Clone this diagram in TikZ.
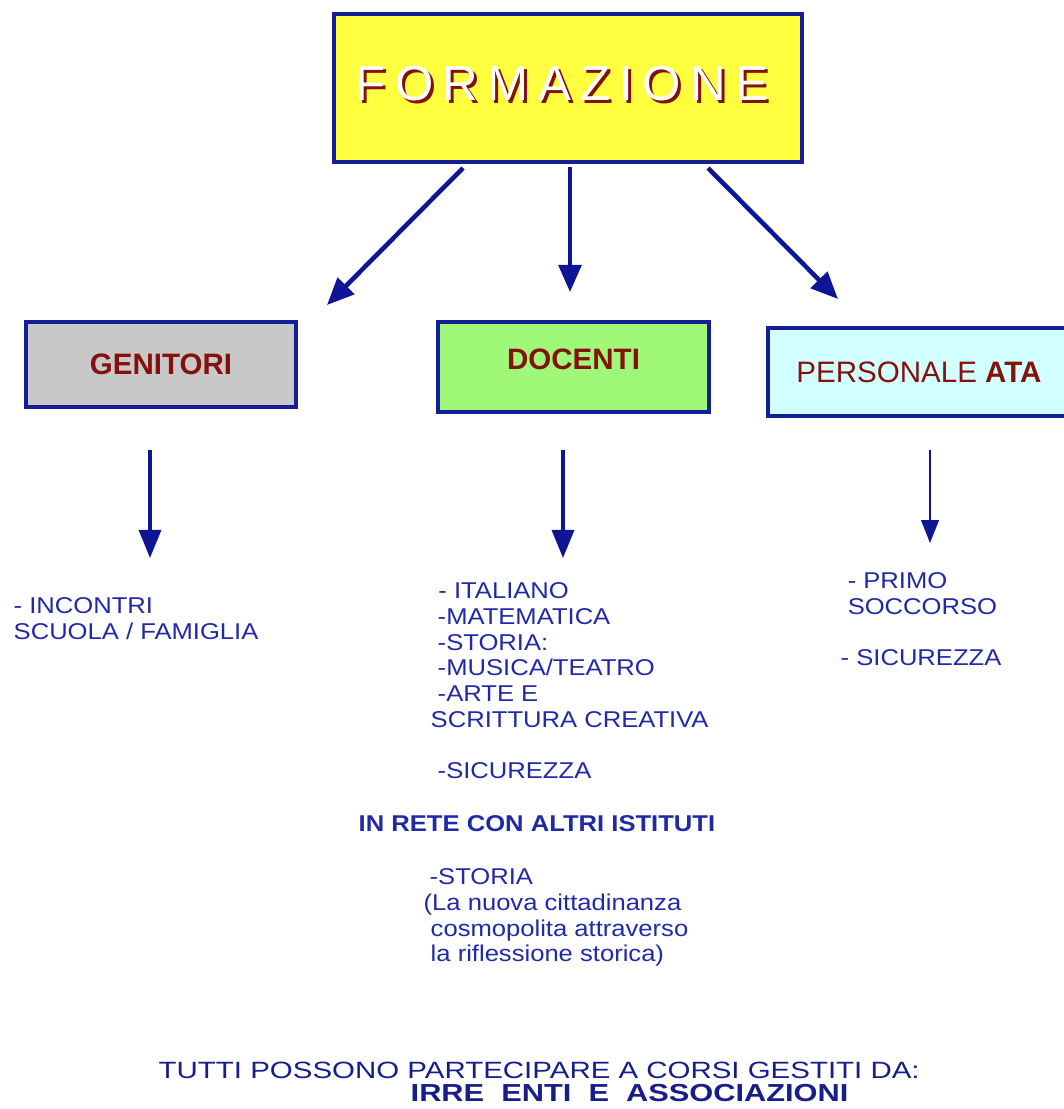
\documentclass[tikz,border=0pt]{standalone}
\usepackage{fontspec}
\setmainfont{Liberation Sans}
\newfontfamily\titlefont[LetterSpace=19]{Liberation Sans}
\newfontfamily\listfont[FakeStretch=1.12]{Liberation Sans}
\newfontfamily\footfont[FakeStretch=1.25]{Liberation Sans}
\usetikzlibrary{arrows.meta}
\pgfdeclarelayer{edgelayer}
\pgfdeclarelayer{nodelayer}
\pgfsetlayers{edgelayer,nodelayer,main}
\definecolor{boxblue}{RGB}{20,30,150}
\definecolor{arrowblue}{RGB}{14,22,150}
\definecolor{textblue}{RGB}{32,42,168}
\definecolor{navy}{RGB}{22,30,140}
\definecolor{darkbrown}{RGB}{132,18,12}
\definecolor{titleyellow}{RGB}{255,255,64}
\definecolor{boxgray}{RGB}{200,200,200}
\definecolor{boxgreen}{RGB}{160,248,120}
\definecolor{boxcyan}{RGB}{210,255,255}
\tikzstyle{group}=[rectangle,draw=boxblue,line width=1pt,text=darkbrown,font=\fontsize{8.4}{10}\selectfont,inner sep=0pt]
\tikzstyle{topic}=[align=left,inner sep=0pt,anchor=north west,text=textblue,font=\listfont\fontsize{6.5}{7.3}\selectfont]
\tikzstyle{footer}=[inner sep=0pt,anchor=base west,text=navy,font=\footfont\fontsize{6.7}{8}\selectfont]
\tikzstyle{branch}=[-{Triangle[length=7.7pt,width=6.5pt]},draw=arrowblue,line width=1.3pt]
\tikzstyle{subbranch}=[-{Triangle[length=8pt,width=6.3pt]},draw=arrowblue,line width=0.9pt]

\begin{document}
\begin{tikzpicture}[x=0.01cm,y=-0.01cm]
	\useasboundingbox (0,0) rectangle (1064,1109);
	\begin{pgfonlayer}{nodelayer}
		\node [style=group, fill=titleyellow, minimum width=4.68cm, minimum height=1.48cm] (0) at (568, 88) {};
		\node [text=darkbrown, inner sep=0pt, font=\titlefont\fontsize{14}{14}\selectfont] (0s) at (565, 87) {FORMAZIONE};
		\node [text=white, inner sep=0pt, font=\titlefont\fontsize{14}{14}\selectfont] (0t) at (562, 84) {FORMAZIONE};
		\node [style=group, fill=boxgray, minimum width=2.70cm, minimum height=0.85cm] (1) at (161, 364.5) {\bfseries GENITORI};
		\node [style=group, fill=boxgreen, minimum width=2.71cm, minimum height=0.90cm, text depth=4.2pt] (2) at (573.5, 367) {\bfseries DOCENTI};
		\node [style=group, fill=boxcyan, minimum width=3.02cm, minimum height=0.88cm] (3) at (919, 372) {PERSONALE \textbf{ATA}};
		\node [style=topic] (4) at (13, 597) {- INCONTRI\\SCUOLA / FAMIGLIA};
		\node [style=topic] (5) at (430, 582) {\hspace*{2.2pt}- ITALIANO\\\hspace*{2pt}-MATEMATICA\\\hspace*{2pt}-STORIA:\\\hspace*{2pt}-MUSICA/TEATRO\\\hspace*{2pt}-ARTE E\\SCRITTURA CREATIVA\\[7.3pt]\hspace*{2pt}-SICUREZZA};
		\node [style=topic, anchor=base west, font=\listfont\fontsize{6.5}{7.3}\selectfont\bfseries] (6) at (358, 831) {IN RETE CON ALTRI ISTITUTI};
		\node [style=topic] (7) at (423, 868) {\hspace*{1.7pt}-STORIA\\(La nuova cittadinanza\\\hspace*{2pt}cosmopolita attraverso\\\hspace*{2pt}la riflessione storica)};
		\node [style=topic] (8) at (840, 572) {\hspace*{2pt}- PRIMO\\\hspace*{2pt}SOCCORSO\\[7.3pt]- SICUREZZA};
		\node [style=footer] (9) at (158, 1078) {TUTTI POSSONO PARTECIPARE A CORSI GESTITI DA:};
		\node [style=footer, font=\footfont\fontsize{7}{8}\selectfont\bfseries] (10) at (410, 1101.5) {IRRE~~ENTI~~E~~ASSOCIAZIONI};
	\end{pgfonlayer}
	\begin{pgfonlayer}{edgelayer}
		\coordinate (a1) at (463, 168);
		\coordinate (b1) at (327, 305);
		\coordinate (a2) at (570, 167);
		\coordinate (b2) at (570, 292);
		\coordinate (a3) at (708, 168);
		\coordinate (b3) at (838, 299);
		\coordinate (c1) at (150, 450);
		\coordinate (d1) at (150, 558);
		\coordinate (c2) at (563, 450);
		\coordinate (d2) at (563, 558);
		\coordinate (c3) at (930, 450);
		\coordinate (d3) at (930, 543);
		\draw [style=branch] (a1) to (b1);
		\draw [style=branch, line width=1pt] (a2) to (b2);
		\draw [style=branch] (a3) to (b3);
		\draw [style=subbranch] (c1) to (d1);
		\draw [style=subbranch] (c2) to (d2);
		\draw [style=subbranch, line width=0.6pt, -{Triangle[length=6.5pt,width=5pt]}] (c3) to (d3);
	\end{pgfonlayer}
\end{tikzpicture}
\end{document}
